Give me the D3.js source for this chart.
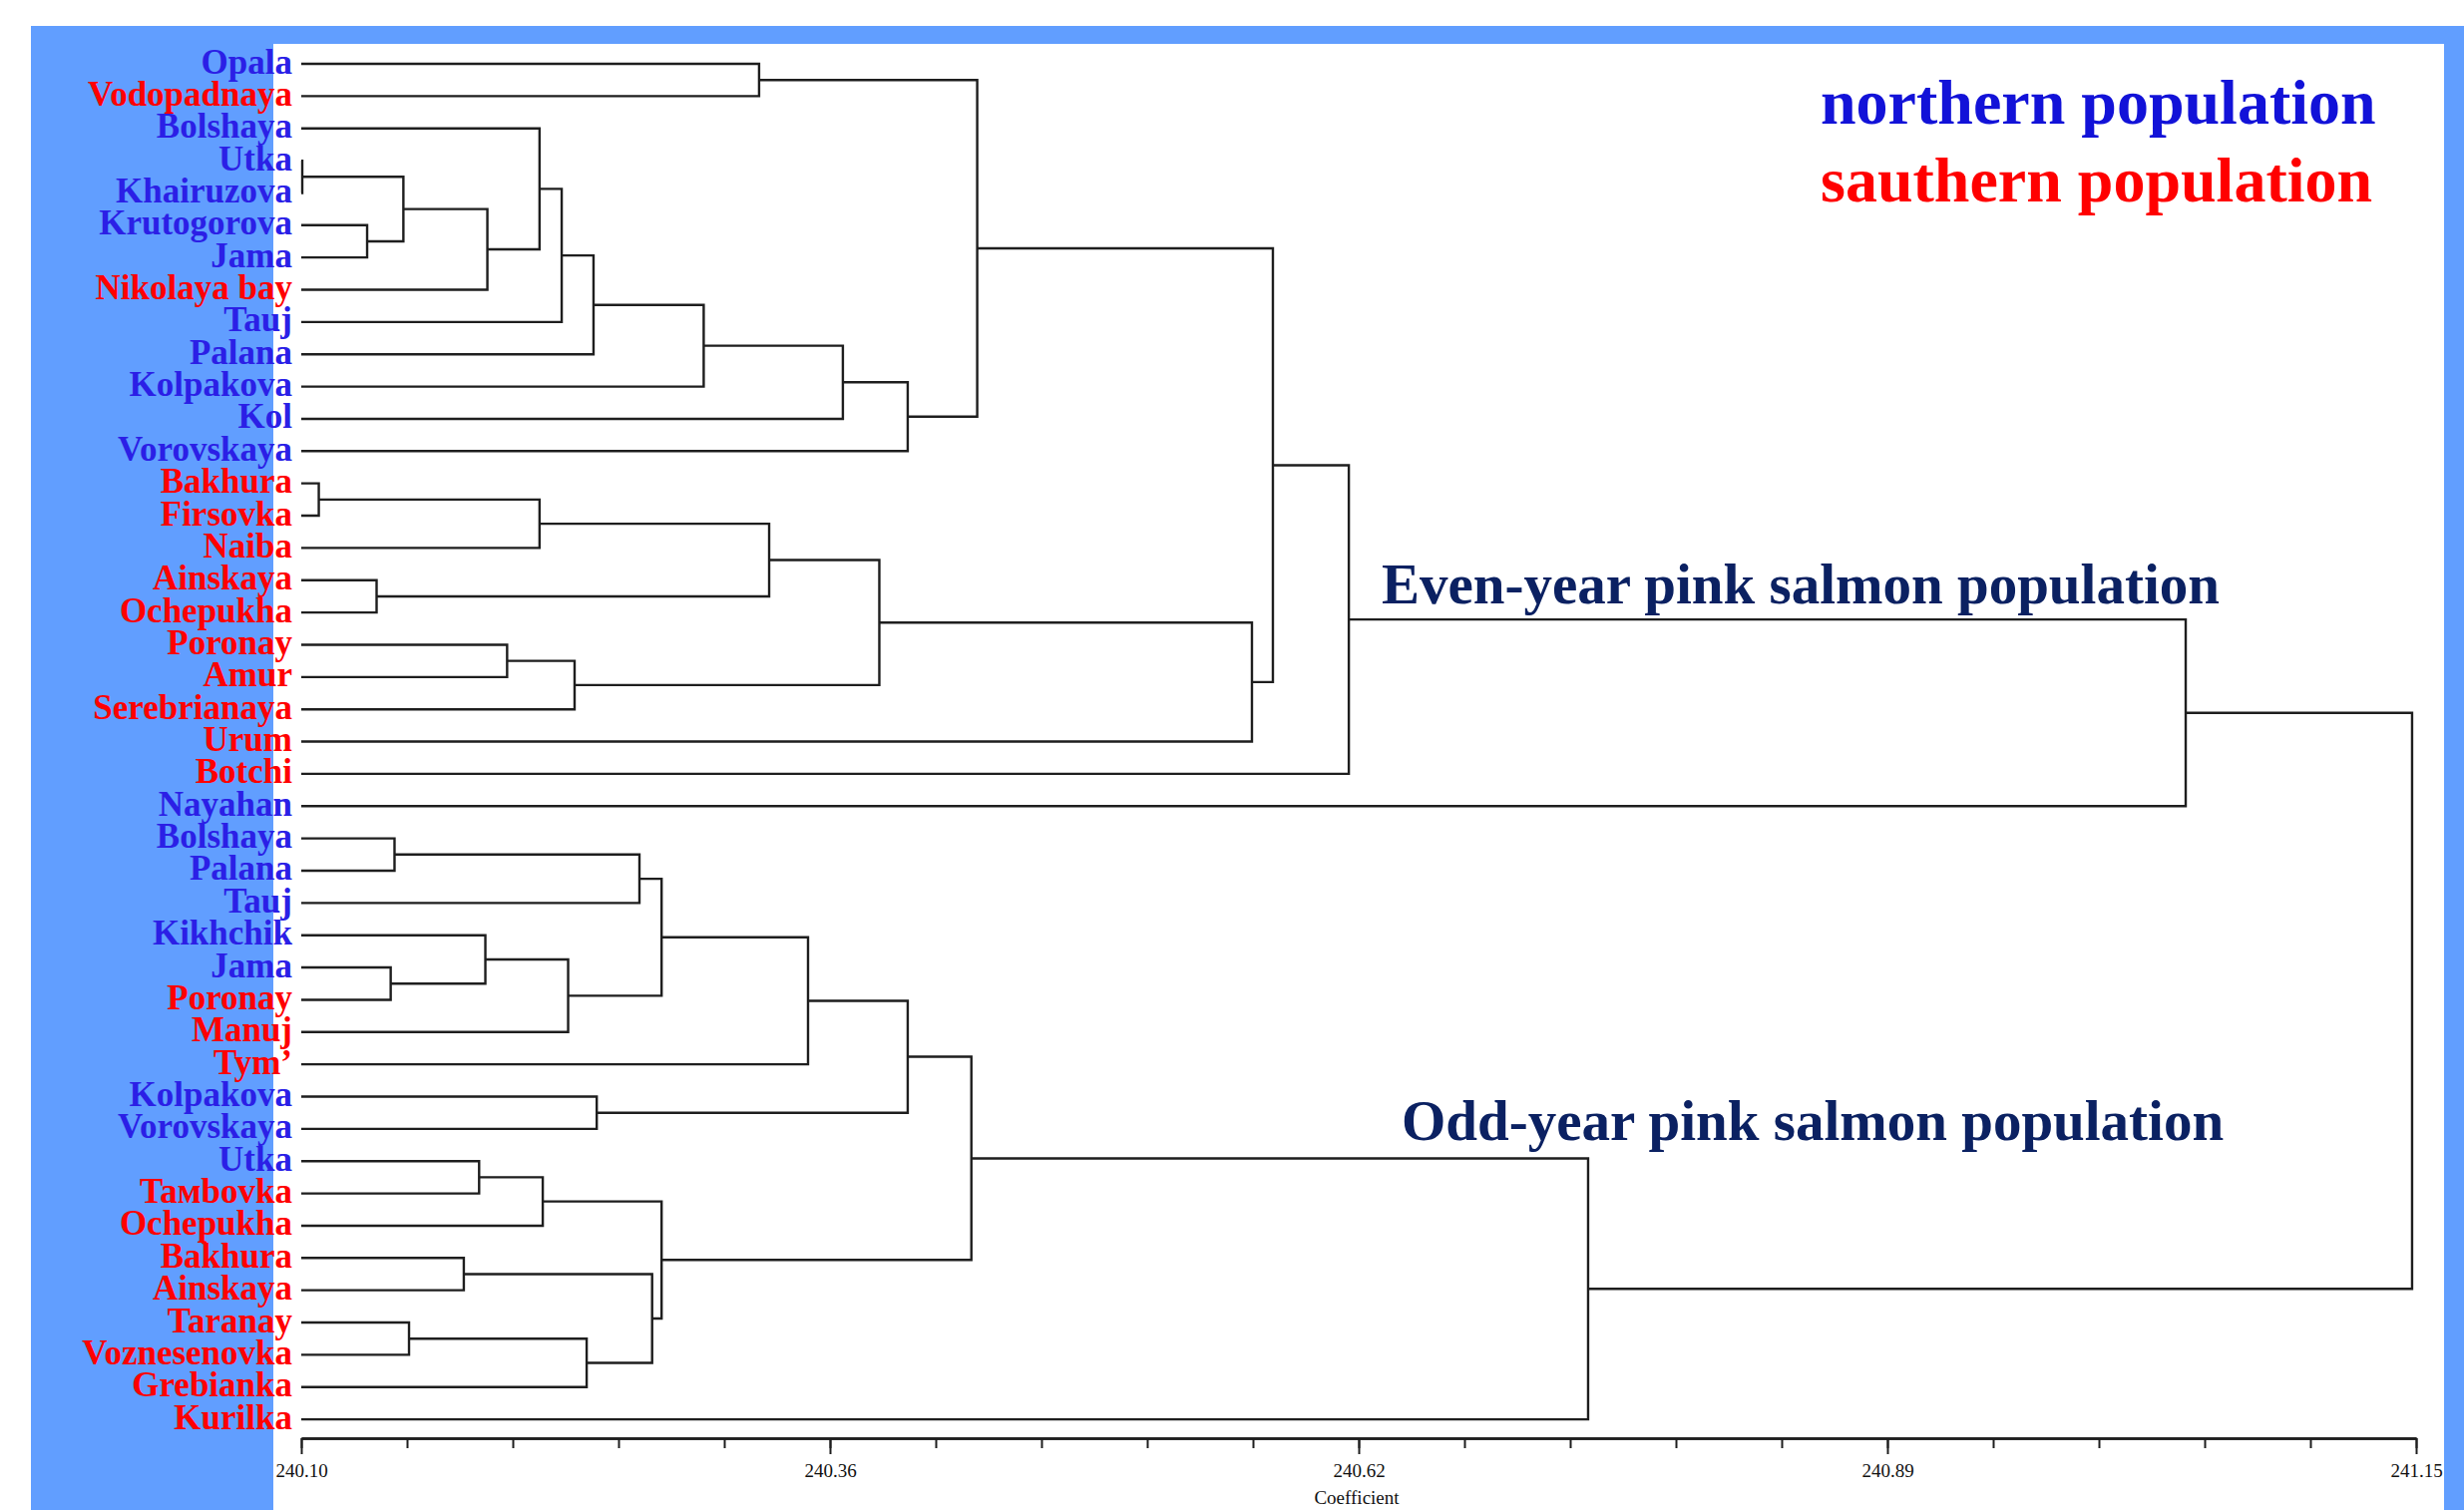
<!DOCTYPE html>
<html>
<head>
<meta charset="utf-8">
<script src="https://cdn.jsdelivr.net/npm/d3@7"></script>
<style>
  html, body { margin: 0; padding: 0; background: #ffffff; }
  svg { display: block; }
</style>
</head>
<body>
<svg id="chart" width="2470" height="1514"></svg>
<script>
// ---------------- DATA ----------------
const leafNames = [
  "Opala","Vodopadnaya","Bolshaya","Utka","Khairuzova","Krutogorova","Jama","Nikolaya bay",
  "Tauj","Palana","Kolpakova","Kol","Vorovskaya","Bakhura","Firsovka","Naiba","Ainskaya",
  "Ochepukha","Poronay","Amur","Serebrianaya","Urum","Botchi","Nayahan",
  "Bolshaya","Palana","Tauj","Kikhchik","Jama","Poronay","Manuj","Tym\u2019","Kolpakova",
  "Vorovskaya","Utka","Ta\u043Cbovka","Ochepukha","Bakhura","Ainskaya","Taranay",
  "Voznesenovka","Grebianka","Kurilka"
];
// N = northern population, S = southern population
const leafRegion = [
  "N","S","N","N","N","N","N","S",
  "N","N","N","N","N","S","S","S","S",
  "S","S","S","S","S","S","N",
  "N","N","N","N","N","S","S","S","N",
  "N","N","S","S","S","S","S",
  "S","S","S"
];
// merges: [childA, childB, coefficient]; leaves are 0..42, merge k has id 43+k
const merges = [
  [3, 4, 240.1005],   // 43
  [5, 6, 240.1327],   // 44
  [43, 44, 240.1507], // 45
  [45, 7, 240.1924],  // 46
  [2, 46, 240.2183],  // 47
  [47, 8, 240.2293],  // 48
  [48, 9, 240.2451],  // 49
  [49, 10, 240.2998], // 50
  [50, 11, 240.3689], // 51
  [51, 12, 240.4011], // 52
  [0, 1, 240.3273],   // 53
  [53, 52, 240.4356], // 54
  [13, 14, 240.1087], // 55
  [55, 15, 240.2183], // 56
  [16, 17, 240.1374], // 57
  [56, 57, 240.3323], // 58
  [18, 19, 240.2022], // 59
  [59, 20, 240.2357], // 60
  [58, 60, 240.3870], // 61
  [61, 21, 240.5720], // 62
  [54, 62, 240.5824], // 63
  [63, 22, 240.6201], // 64
  [64, 23, 241.0356], // 65
  [24, 25, 240.1463], // 66
  [66, 26, 240.2679], // 67
  [28, 29, 240.1444], // 68
  [27, 68, 240.1914], // 69
  [69, 30, 240.2325], // 70
  [67, 70, 240.2789], // 71
  [71, 31, 240.3516], // 72
  [32, 33, 240.2467], // 73
  [72, 73, 240.4011], // 74
  [34, 35, 240.1883], // 75
  [75, 36, 240.2199], // 76
  [37, 38, 240.1807], // 77
  [39, 40, 240.1535], // 78
  [78, 41, 240.2417], // 79
  [77, 79, 240.2742], // 80
  [76, 80, 240.2789], // 81
  [74, 81, 240.4327], // 82
  [82, 42, 240.7389], // 83
  [65, 83, 241.1480]  // 84 root
];
const axisMin = 240.10, axisMax = 241.15;
const majorTickValues = [240.10, 240.3625, 240.625, 240.8875, 241.15];
const majorTickLabels = ["240.10", "240.36", "240.62", "240.89", "241.15"];
const minorTicksPerMajor = 5;
const axisTitle = "Coefficient";
const legendTexts = ["northern population", "sauthern population"];
const groupTitles = ["Even-year pink salmon population", "Odd-year pink salmon population"];

// ---------------- LAYOUT ----------------
const svg = d3.select("#chart");
const W = 2470, H = 1514;
const colors = { frame: "#619eff", N: "#2b1fe6", S: "#ff0000", legendN: "#1212d8", title: "#0b2162", line: "#1e1e1e" };

// frame
svg.append("rect").attr("x", 0).attr("y", 0).attr("width", W).attr("height", H).attr("fill", "#ffffff");
svg.append("rect").attr("x", 31).attr("y", 26).attr("width", W - 31).attr("height", H - 26).attr("fill", colors.frame);
svg.append("rect").attr("x", 274).attr("y", 44).attr("width", 2450 - 274).attr("height", H - 44).attr("fill", "#ffffff");

const x = d3.scaleLinear().domain([axisMin, axisMax]).range([302, 2422]);
const y = d3.scaleLinear().domain([0, leafNames.length - 1]).range([64, 1423.1]);

// nodes
const nodes = leafNames.map((n, i) => ({ h: axisMin, y: y(i) }));
merges.forEach(([a, b, h]) => {
  nodes.push({ h, y: (nodes[a].y + nodes[b].y) / 2 });
});

const g = svg.append("g");
g.selectAll("path.link")
  .data(merges)
  .join("path")
  .attr("class", "link")
  .attr("fill", "none")
  .attr("stroke", colors.line)
  .attr("stroke-width", 2.4)
  .attr("d", ([a, b, h]) => {
    const A = nodes[a], B = nodes[b];
    return `M${x(A.h)},${A.y}H${x(h)}V${B.y}H${x(B.h)}`;
  });

// leaf labels
svg.append("g").selectAll("text")
  .data(leafNames)
  .join("text")
  .attr("x", 293)
  .attr("y", (d, i) => y(i) + 9.5)
  .attr("text-anchor", "end")
  .attr("font-family", "'Liberation Serif', 'Times New Roman', serif")
  .attr("font-weight", "bold")
  .attr("font-size", 35)
  .attr("fill", (d, i) => colors[leafRegion[i]])
  .text(d => d);

// axis
const axisY = 1442;
const minorValues = d3.range((majorTickValues.length - 1) * minorTicksPerMajor + 1)
  .map(i => axisMin + i * (axisMax - axisMin) / ((majorTickValues.length - 1) * minorTicksPerMajor));

const minorAxis = svg.append("g").attr("transform", `translate(0,${axisY})`)
  .call(d3.axisBottom(x).tickValues(minorValues).tickSize(10).tickSizeOuter(0).tickFormat(""));
const majorAxis = svg.append("g").attr("transform", `translate(0,${axisY})`)
  .call(d3.axisBottom(x).tickValues(majorTickValues).tickSize(16).tickSizeOuter(0).tickPadding(10)
    .tickFormat((d, i) => majorTickLabels[i]));
[minorAxis, majorAxis].forEach(a => {
  a.select(".domain").attr("stroke", colors.line).attr("stroke-width", 2.6);
  a.selectAll(".tick line").attr("stroke", colors.line).attr("stroke-width", 2);
  a.selectAll(".tick text").attr("font-family", "'Liberation Serif', 'Times New Roman', serif")
    .attr("font-size", 19).attr("fill", "#111");
});

svg.append("text")
  .attr("x", 1360).attr("y", 1508)
  .attr("text-anchor", "middle")
  .attr("font-family", "'Liberation Serif', 'Times New Roman', serif")
  .attr("font-size", 19).attr("fill", "#111")
  .text(axisTitle);

// legend
svg.append("text").attr("x", 1825).attr("y", 124)
  .attr("font-family", "'Liberation Serif', 'Times New Roman', serif")
  .attr("font-weight", "bold").attr("font-size", 64).attr("fill", colors.legendN)
  .text(legendTexts[0]);
svg.append("text").attr("x", 1825).attr("y", 202)
  .attr("font-family", "'Liberation Serif', 'Times New Roman', serif")
  .attr("font-weight", "bold").attr("font-size", 64).attr("fill", colors.S)
  .text(legendTexts[1]);

// group titles
svg.append("text").attr("x", 1385).attr("y", 605)
  .attr("font-family", "'Liberation Serif', 'Times New Roman', serif")
  .attr("font-weight", "bold").attr("font-size", 57).attr("fill", colors.title)
  .text(groupTitles[0]);
svg.append("text").attr("x", 1405).attr("y", 1143)
  .attr("font-family", "'Liberation Serif', 'Times New Roman', serif")
  .attr("font-weight", "bold").attr("font-size", 57).attr("fill", colors.title)
  .text(groupTitles[1]);
</script>
</body>
</html>
